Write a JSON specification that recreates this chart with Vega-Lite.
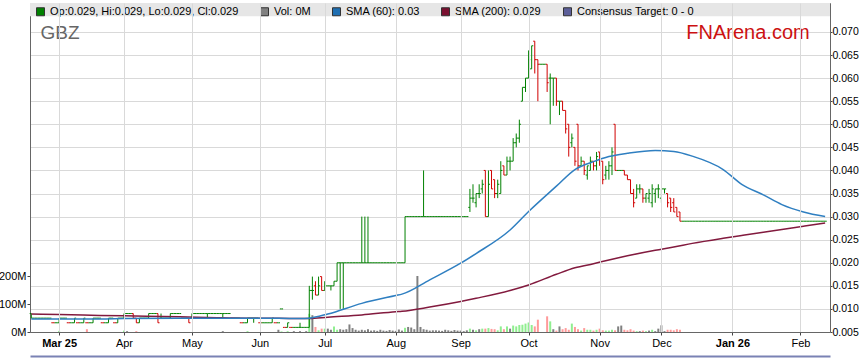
{
"$schema":"https://vega.github.io/schema/vega-lite/v6.json",
"width":800,"height":329,
"autosize":{"type":"none"},
"padding":{"left":30,"top":3,"right":29,"bottom":31},
"background":"white",
"config":{"font":"Liberation Sans","view":{"stroke":"#9a9a9a","strokeWidth":1},
"axis":{"labelFont":"Liberation Sans","labelFontSize":11,"labelColor":"#000","domainColor":"#666","tickColor":"#444","gridColor":"#d9d9d9","title":null}},
"datasets":{
"px":[
{"d":"2025-02-18","o":0.009,"h":0.009,"l":0.008,"c":0.008,"v":0},
{"d":"2025-02-19","o":0.008,"h":0.008,"l":0.008,"c":0.008,"v":0},
{"d":"2025-02-20","o":0.008,"h":0.008,"l":0.008,"c":0.008,"v":0},
{"d":"2025-02-21","o":0.008,"h":0.008,"l":0.008,"c":0.008,"v":0},
{"d":"2025-02-24","o":0.008,"h":0.008,"l":0.008,"c":0.008,"v":0},
{"d":"2025-02-25","o":0.008,"h":0.008,"l":0.008,"c":0.008,"v":0},
{"d":"2025-02-26","o":0.008,"h":0.008,"l":0.008,"c":0.008,"v":0},
{"d":"2025-02-27","o":0.007,"h":0.007,"l":0.007,"c":0.007,"v":0},
{"d":"2025-02-28","o":0.007,"h":0.007,"l":0.007,"c":0.007,"v":0},
{"d":"2025-03-03","o":0.007,"h":0.008,"l":0.007,"c":0.008,"v":4},
{"d":"2025-03-04","o":0.008,"h":0.008,"l":0.008,"c":0.008,"v":0},
{"d":"2025-03-05","o":0.008,"h":0.008,"l":0.008,"c":0.008,"v":0},
{"d":"2025-03-06","o":0.007,"h":0.007,"l":0.007,"c":0.007,"v":0},
{"d":"2025-03-07","o":0.007,"h":0.007,"l":0.007,"c":0.007,"v":0},
{"d":"2025-03-10","o":0.007,"h":0.008,"l":0.007,"c":0.008,"v":0},
{"d":"2025-03-11","o":0.007,"h":0.007,"l":0.007,"c":0.007,"v":0},
{"d":"2025-03-12","o":0.007,"h":0.007,"l":0.007,"c":0.007,"v":0},
{"d":"2025-03-13","o":0.007,"h":0.008,"l":0.007,"c":0.008,"v":0},
{"d":"2025-03-14","o":0.007,"h":0.007,"l":0.007,"c":0.007,"v":10},
{"d":"2025-03-17","o":0.007,"h":0.007,"l":0.007,"c":0.007,"v":0},
{"d":"2025-03-18","o":0.007,"h":0.008,"l":0.007,"c":0.008,"v":0},
{"d":"2025-03-19","o":0.008,"h":0.008,"l":0.008,"c":0.008,"v":0},
{"d":"2025-03-20","o":0.008,"h":0.008,"l":0.008,"c":0.008,"v":0},
{"d":"2025-03-21","o":0.007,"h":0.007,"l":0.007,"c":0.007,"v":0},
{"d":"2025-03-24","o":0.007,"h":0.007,"l":0.007,"c":0.007,"v":0},
{"d":"2025-03-25","o":0.007,"h":0.008,"l":0.007,"c":0.008,"v":0},
{"d":"2025-03-26","o":0.008,"h":0.008,"l":0.008,"c":0.008,"v":0},
{"d":"2025-03-27","o":0.007,"h":0.007,"l":0.007,"c":0.007,"v":0},
{"d":"2025-03-28","o":0.007,"h":0.008,"l":0.007,"c":0.008,"v":0},
{"d":"2025-03-31","o":0.008,"h":0.008,"l":0.008,"c":0.008,"v":0},
{"d":"2025-04-01","o":0.008,"h":0.009,"l":0.008,"c":0.009,"v":5},
{"d":"2025-04-02","o":0.009,"h":0.009,"l":0.009,"c":0.009,"v":3},
{"d":"2025-04-03","o":0.009,"h":0.009,"l":0.009,"c":0.009,"v":0},
{"d":"2025-04-04","o":0.009,"h":0.009,"l":0.008,"c":0.008,"v":0},
{"d":"2025-04-07","o":0.008,"h":0.008,"l":0.007,"c":0.007,"v":3},
{"d":"2025-04-08","o":0.007,"h":0.008,"l":0.007,"c":0.008,"v":0},
{"d":"2025-04-09","o":0.008,"h":0.008,"l":0.008,"c":0.008,"v":0},
{"d":"2025-04-10","o":0.008,"h":0.008,"l":0.008,"c":0.008,"v":0},
{"d":"2025-04-11","o":0.008,"h":0.009,"l":0.008,"c":0.009,"v":0},
{"d":"2025-04-14","o":0.009,"h":0.009,"l":0.009,"c":0.009,"v":0},
{"d":"2025-04-15","o":0.009,"h":0.009,"l":0.009,"c":0.009,"v":0},
{"d":"2025-04-16","o":0.009,"h":0.009,"l":0.007,"c":0.007,"v":0},
{"d":"2025-04-17","o":0.008,"h":0.009,"l":0.008,"c":0.008,"v":0},
{"d":"2025-04-18","o":0.008,"h":0.008,"l":0.008,"c":0.008,"v":0},
{"d":"2025-04-21","o":0.008,"h":0.008,"l":0.008,"c":0.008,"v":0},
{"d":"2025-04-22","o":0.008,"h":0.009,"l":0.008,"c":0.009,"v":0},
{"d":"2025-04-23","o":0.009,"h":0.009,"l":0.009,"c":0.009,"v":0},
{"d":"2025-04-24","o":0.009,"h":0.009,"l":0.009,"c":0.009,"v":0},
{"d":"2025-04-25","o":0.009,"h":0.009,"l":0.009,"c":0.009,"v":0},
{"d":"2025-04-28","o":0.008,"h":0.008,"l":0.008,"c":0.008,"v":0},
{"d":"2025-04-29","o":0.008,"h":0.008,"l":0.008,"c":0.008,"v":0},
{"d":"2025-04-30","o":0.008,"h":0.008,"l":0.007,"c":0.007,"v":0},
{"d":"2025-05-01","o":0.008,"h":0.009,"l":0.008,"c":0.009,"v":0},
{"d":"2025-05-02","o":0.009,"h":0.009,"l":0.009,"c":0.009,"v":0},
{"d":"2025-05-05","o":0.009,"h":0.009,"l":0.009,"c":0.009,"v":0},
{"d":"2025-05-06","o":0.009,"h":0.009,"l":0.009,"c":0.009,"v":0},
{"d":"2025-05-07","o":0.009,"h":0.009,"l":0.009,"c":0.009,"v":0},
{"d":"2025-05-08","o":0.009,"h":0.009,"l":0.008,"c":0.009,"v":0},
{"d":"2025-05-09","o":0.009,"h":0.009,"l":0.009,"c":0.009,"v":0},
{"d":"2025-05-12","o":0.009,"h":0.009,"l":0.009,"c":0.009,"v":0},
{"d":"2025-05-13","o":0.009,"h":0.009,"l":0.009,"c":0.009,"v":0},
{"d":"2025-05-14","o":0.009,"h":0.009,"l":0.009,"c":0.009,"v":0},
{"d":"2025-05-15","o":0.009,"h":0.009,"l":0.008,"c":0.009,"v":3},
{"d":"2025-05-16","o":0.009,"h":0.009,"l":0.009,"c":0.009,"v":0},
{"d":"2025-05-19","o":0.009,"h":0.009,"l":0.009,"c":0.009,"v":0},
{"d":"2025-05-20","o":0.008,"h":0.008,"l":0.008,"c":0.008,"v":0},
{"d":"2025-05-21","o":0.008,"h":0.008,"l":0.008,"c":0.008,"v":0},
{"d":"2025-05-22","o":0.008,"h":0.008,"l":0.008,"c":0.008,"v":0},
{"d":"2025-05-23","o":0.007,"h":0.007,"l":0.007,"c":0.007,"v":0},
{"d":"2025-05-26","o":0.007,"h":0.007,"l":0.007,"c":0.007,"v":0},
{"d":"2025-05-27","o":0.007,"h":0.008,"l":0.007,"c":0.008,"v":3},
{"d":"2025-05-28","o":0.008,"h":0.008,"l":0.008,"c":0.008,"v":0},
{"d":"2025-05-29","o":0.008,"h":0.008,"l":0.007,"c":0.008,"v":0},
{"d":"2025-05-30","o":0.008,"h":0.008,"l":0.008,"c":0.008,"v":0},
{"d":"2025-06-02","o":0.007,"h":0.007,"l":0.007,"c":0.007,"v":0},
{"d":"2025-06-03","o":0.007,"h":0.007,"l":0.007,"c":0.007,"v":0},
{"d":"2025-06-04","o":0.007,"h":0.007,"l":0.007,"c":0.007,"v":0},
{"d":"2025-06-05","o":0.007,"h":0.007,"l":0.007,"c":0.007,"v":0},
{"d":"2025-06-06","o":0.007,"h":0.008,"l":0.007,"c":0.008,"v":0},
{"d":"2025-06-09","o":0.007,"h":0.007,"l":0.007,"c":0.007,"v":0},
{"d":"2025-06-10","o":0.007,"h":0.007,"l":0.007,"c":0.007,"v":8},
{"d":"2025-06-11","o":0.010,"h":0.010,"l":0.010,"c":0.010,"v":2},
{"d":"2025-06-12","o":0.006,"h":0.006,"l":0.006,"c":0.006,"v":0},
{"d":"2025-06-13","o":0.006,"h":0.007,"l":0.006,"c":0.007,"v":3},
{"d":"2025-06-16","o":0.006,"h":0.006,"l":0.006,"c":0.006,"v":0},
{"d":"2025-06-17","o":0.006,"h":0.006,"l":0.006,"c":0.006,"v":3},
{"d":"2025-06-18","o":0.006,"h":0.006,"l":0.006,"c":0.006,"v":0},
{"d":"2025-06-19","o":0.006,"h":0.007,"l":0.006,"c":0.006,"v":3},
{"d":"2025-06-20","o":0.006,"h":0.006,"l":0.006,"c":0.006,"v":0},
{"d":"2025-06-23","o":0.006,"h":0.006,"l":0.006,"c":0.006,"v":3},
{"d":"2025-06-24","o":0.006,"h":0.015,"l":0.006,"c":0.014,"v":65},
{"d":"2025-06-25","o":0.014,"h":0.017,"l":0.012,"c":0.014,"v":60},
{"d":"2025-06-26","o":0.015,"h":0.016,"l":0.013,"c":0.013,"v":18},
{"d":"2025-06-27","o":0.013,"h":0.017,"l":0.013,"c":0.015,"v":6},
{"d":"2025-06-30","o":0.017,"h":0.017,"l":0.014,"c":0.014,"v":12},
{"d":"2025-07-01","o":0.014,"h":0.016,"l":0.014,"c":0.015,"v":12},
{"d":"2025-07-02","o":0.015,"h":0.015,"l":0.015,"c":0.015,"v":12},
{"d":"2025-07-03","o":0.015,"h":0.015,"l":0.014,"c":0.015,"v":8},
{"d":"2025-07-04","o":0.015,"h":0.016,"l":0.015,"c":0.016,"v":20},
{"d":"2025-07-07","o":0.016,"h":0.020,"l":0.016,"c":0.020,"v":8},
{"d":"2025-07-08","o":0.020,"h":0.020,"l":0.010,"c":0.020,"v":10},
{"d":"2025-07-09","o":0.020,"h":0.020,"l":0.010,"c":0.020,"v":8},
{"d":"2025-07-10","o":0.020,"h":0.020,"l":0.020,"c":0.020,"v":10},
{"d":"2025-07-11","o":0.020,"h":0.020,"l":0.020,"c":0.020,"v":27},
{"d":"2025-07-14","o":0.020,"h":0.020,"l":0.020,"c":0.020,"v":14},
{"d":"2025-07-15","o":0.020,"h":0.020,"l":0.020,"c":0.020,"v":8},
{"d":"2025-07-16","o":0.020,"h":0.020,"l":0.020,"c":0.020,"v":5},
{"d":"2025-07-17","o":0.020,"h":0.030,"l":0.020,"c":0.020,"v":8},
{"d":"2025-07-18","o":0.020,"h":0.030,"l":0.020,"c":0.020,"v":6},
{"d":"2025-07-21","o":0.020,"h":0.030,"l":0.020,"c":0.020,"v":10},
{"d":"2025-07-22","o":0.020,"h":0.020,"l":0.020,"c":0.020,"v":5},
{"d":"2025-07-23","o":0.020,"h":0.020,"l":0.020,"c":0.020,"v":6},
{"d":"2025-07-24","o":0.020,"h":0.020,"l":0.020,"c":0.020,"v":4},
{"d":"2025-07-25","o":0.020,"h":0.020,"l":0.020,"c":0.020,"v":8},
{"d":"2025-07-28","o":0.020,"h":0.020,"l":0.020,"c":0.020,"v":5},
{"d":"2025-07-29","o":0.020,"h":0.020,"l":0.020,"c":0.020,"v":4},
{"d":"2025-07-30","o":0.020,"h":0.020,"l":0.020,"c":0.020,"v":7},
{"d":"2025-07-31","o":0.020,"h":0.020,"l":0.020,"c":0.020,"v":5},
{"d":"2025-08-01","o":0.020,"h":0.020,"l":0.020,"c":0.020,"v":4},
{"d":"2025-08-04","o":0.020,"h":0.020,"l":0.020,"c":0.020,"v":9},
{"d":"2025-08-05","o":0.020,"h":0.020,"l":0.020,"c":0.020,"v":5},
{"d":"2025-08-06","o":0.020,"h":0.030,"l":0.020,"c":0.030,"v":15},
{"d":"2025-08-07","o":0.030,"h":0.030,"l":0.030,"c":0.030,"v":18},
{"d":"2025-08-08","o":0.030,"h":0.030,"l":0.030,"c":0.030,"v":16},
{"d":"2025-08-11","o":0.030,"h":0.030,"l":0.030,"c":0.030,"v":10},
{"d":"2025-08-12","o":0.030,"h":0.030,"l":0.030,"c":0.030,"v":200},
{"d":"2025-08-13","o":0.030,"h":0.030,"l":0.030,"c":0.030,"v":18},
{"d":"2025-08-14","o":0.030,"h":0.040,"l":0.030,"c":0.030,"v":10},
{"d":"2025-08-15","o":0.030,"h":0.030,"l":0.030,"c":0.030,"v":8},
{"d":"2025-08-18","o":0.030,"h":0.030,"l":0.030,"c":0.030,"v":5},
{"d":"2025-08-19","o":0.030,"h":0.030,"l":0.030,"c":0.030,"v":6},
{"d":"2025-08-20","o":0.030,"h":0.030,"l":0.030,"c":0.030,"v":6},
{"d":"2025-08-21","o":0.030,"h":0.030,"l":0.030,"c":0.030,"v":5},
{"d":"2025-08-22","o":0.030,"h":0.030,"l":0.030,"c":0.030,"v":4},
{"d":"2025-08-25","o":0.030,"h":0.030,"l":0.030,"c":0.030,"v":8},
{"d":"2025-08-26","o":0.030,"h":0.030,"l":0.030,"c":0.030,"v":6},
{"d":"2025-08-27","o":0.030,"h":0.030,"l":0.030,"c":0.030,"v":4},
{"d":"2025-08-28","o":0.030,"h":0.030,"l":0.030,"c":0.030,"v":7},
{"d":"2025-08-29","o":0.030,"h":0.030,"l":0.030,"c":0.030,"v":5},
{"d":"2025-09-01","o":0.030,"h":0.030,"l":0.030,"c":0.030,"v":5},
{"d":"2025-09-02","o":0.030,"h":0.030,"l":0.030,"c":0.030,"v":3},
{"d":"2025-09-03","o":0.030,"h":0.030,"l":0.030,"c":0.030,"v":6},
{"d":"2025-09-04","o":0.032,"h":0.036,"l":0.031,"c":0.034,"v":12},
{"d":"2025-09-05","o":0.034,"h":0.037,"l":0.033,"c":0.034,"v":8},
{"d":"2025-09-08","o":0.033,"h":0.035,"l":0.032,"c":0.035,"v":6},
{"d":"2025-09-09","o":0.035,"h":0.037,"l":0.034,"c":0.035,"v":10},
{"d":"2025-09-10","o":0.036,"h":0.038,"l":0.035,"c":0.037,"v":12},
{"d":"2025-09-11","o":0.040,"h":0.040,"l":0.030,"c":0.030,"v":12},
{"d":"2025-09-12","o":0.030,"h":0.040,"l":0.030,"c":0.037,"v":14},
{"d":"2025-09-15","o":0.040,"h":0.040,"l":0.036,"c":0.036,"v":11},
{"d":"2025-09-16","o":0.038,"h":0.038,"l":0.034,"c":0.035,"v":10},
{"d":"2025-09-17","o":0.035,"h":0.038,"l":0.034,"c":0.037,"v":6},
{"d":"2025-09-18","o":0.035,"h":0.042,"l":0.035,"c":0.040,"v":20},
{"d":"2025-09-19","o":0.041,"h":0.041,"l":0.039,"c":0.039,"v":10},
{"d":"2025-09-22","o":0.039,"h":0.043,"l":0.039,"c":0.042,"v":20},
{"d":"2025-09-23","o":0.042,"h":0.043,"l":0.040,"c":0.042,"v":12},
{"d":"2025-09-24","o":0.042,"h":0.047,"l":0.042,"c":0.046,"v":23},
{"d":"2025-09-25","o":0.046,"h":0.048,"l":0.045,"c":0.047,"v":20},
{"d":"2025-09-26","o":0.047,"h":0.051,"l":0.046,"c":0.050,"v":25},
{"d":"2025-09-29","o":0.055,"h":0.058,"l":0.055,"c":0.058,"v":26},
{"d":"2025-09-30","o":0.058,"h":0.060,"l":0.057,"c":0.060,"v":30},
{"d":"2025-10-01","o":0.060,"h":0.066,"l":0.060,"c":0.064,"v":34},
{"d":"2025-10-02","o":0.062,"h":0.067,"l":0.062,"c":0.067,"v":25},
{"d":"2025-10-03","o":0.068,"h":0.068,"l":0.061,"c":0.064,"v":20},
{"d":"2025-10-06","o":0.064,"h":0.064,"l":0.055,"c":0.063,"v":44},
{"d":"2025-10-07","o":0.063,"h":0.063,"l":0.063,"c":0.063,"v":0},
{"d":"2025-10-08","o":0.063,"h":0.063,"l":0.063,"c":0.063,"v":0},
{"d":"2025-10-09","o":0.063,"h":0.063,"l":0.057,"c":0.059,"v":56},
{"d":"2025-10-10","o":0.060,"h":0.061,"l":0.050,"c":0.060,"v":38},
{"d":"2025-10-13","o":0.060,"h":0.060,"l":0.054,"c":0.060,"v":10},
{"d":"2025-10-14","o":0.060,"h":0.060,"l":0.054,"c":0.055,"v":5},
{"d":"2025-10-15","o":0.055,"h":0.055,"l":0.052,"c":0.055,"v":20},
{"d":"2025-10-16","o":0.055,"h":0.055,"l":0.053,"c":0.053,"v":10},
{"d":"2025-10-17","o":0.053,"h":0.053,"l":0.048,"c":0.049,"v":14},
{"d":"2025-10-20","o":0.050,"h":0.050,"l":0.043,"c":0.045,"v":8},
{"d":"2025-10-21","o":0.046,"h":0.048,"l":0.045,"c":0.047,"v":30},
{"d":"2025-10-22","o":0.045,"h":0.045,"l":0.041,"c":0.042,"v":18},
{"d":"2025-10-23","o":0.050,"h":0.050,"l":0.040,"c":0.041,"v":10},
{"d":"2025-10-24","o":0.041,"h":0.043,"l":0.041,"c":0.042,"v":5},
{"d":"2025-10-27","o":0.042,"h":0.042,"l":0.039,"c":0.040,"v":14},
{"d":"2025-10-28","o":0.039,"h":0.041,"l":0.038,"c":0.041,"v":8},
{"d":"2025-10-29","o":0.040,"h":0.043,"l":0.040,"c":0.042,"v":8},
{"d":"2025-10-30","o":0.042,"h":0.042,"l":0.040,"c":0.041,"v":5},
{"d":"2025-10-31","o":0.041,"h":0.044,"l":0.040,"c":0.043,"v":8},
{"d":"2025-11-03","o":0.044,"h":0.044,"l":0.041,"c":0.042,"v":12},
{"d":"2025-11-04","o":0.042,"h":0.042,"l":0.037,"c":0.038,"v":6},
{"d":"2025-11-05","o":0.039,"h":0.041,"l":0.038,"c":0.040,"v":5},
{"d":"2025-11-06","o":0.040,"h":0.042,"l":0.038,"c":0.041,"v":5},
{"d":"2025-11-07","o":0.041,"h":0.045,"l":0.039,"c":0.044,"v":8},
{"d":"2025-11-10","o":0.050,"h":0.050,"l":0.040,"c":0.040,"v":6},
{"d":"2025-11-11","o":0.040,"h":0.040,"l":0.040,"c":0.040,"v":20},
{"d":"2025-11-12","o":0.040,"h":0.040,"l":0.040,"c":0.040,"v":23},
{"d":"2025-11-13","o":0.040,"h":0.040,"l":0.039,"c":0.039,"v":8},
{"d":"2025-11-14","o":0.039,"h":0.039,"l":0.038,"c":0.038,"v":6},
{"d":"2025-11-17","o":0.038,"h":0.038,"l":0.035,"c":0.035,"v":10},
{"d":"2025-11-18","o":0.035,"h":0.036,"l":0.032,"c":0.033,"v":5},
{"d":"2025-11-19","o":0.034,"h":0.037,"l":0.034,"c":0.036,"v":3},
{"d":"2025-11-20","o":0.036,"h":0.037,"l":0.035,"c":0.036,"v":3},
{"d":"2025-11-21","o":0.036,"h":0.036,"l":0.033,"c":0.034,"v":5},
{"d":"2025-11-24","o":0.034,"h":0.035,"l":0.033,"c":0.035,"v":3},
{"d":"2025-11-25","o":0.034,"h":0.036,"l":0.033,"c":0.035,"v":5},
{"d":"2025-11-26","o":0.033,"h":0.037,"l":0.032,"c":0.036,"v":8},
{"d":"2025-11-27","o":0.035,"h":0.036,"l":0.033,"c":0.036,"v":3},
{"d":"2025-11-28","o":0.036,"h":0.037,"l":0.034,"c":0.036,"v":12},
{"d":"2025-12-01","o":0.034,"h":0.036,"l":0.033,"c":0.036,"v":24},
{"d":"2025-12-02","o":0.036,"h":0.036,"l":0.035,"c":0.036,"v":3},
{"d":"2025-12-03","o":0.035,"h":0.035,"l":0.032,"c":0.033,"v":8},
{"d":"2025-12-04","o":0.034,"h":0.034,"l":0.031,"c":0.032,"v":8},
{"d":"2025-12-05","o":0.033,"h":0.034,"l":0.031,"c":0.031,"v":6},
{"d":"2025-12-08","o":0.032,"h":0.032,"l":0.030,"c":0.030,"v":10},
{"d":"2025-12-09","o":0.031,"h":0.031,"l":0.029,"c":0.029,"v":8},
{"d":"2025-12-10","o":0.029,"h":0.029,"l":0.029,"c":0.029,"v":0},
{"d":"2025-12-11","o":0.029,"h":0.029,"l":0.029,"c":0.029,"v":0},
{"d":"2025-12-12","o":0.029,"h":0.029,"l":0.029,"c":0.029,"v":0},
{"d":"2025-12-15","o":0.029,"h":0.029,"l":0.029,"c":0.029,"v":0},
{"d":"2025-12-16","o":0.029,"h":0.029,"l":0.029,"c":0.029,"v":0},
{"d":"2025-12-17","o":0.029,"h":0.029,"l":0.029,"c":0.029,"v":0},
{"d":"2025-12-18","o":0.029,"h":0.029,"l":0.029,"c":0.029,"v":0},
{"d":"2025-12-19","o":0.029,"h":0.029,"l":0.029,"c":0.029,"v":0},
{"d":"2025-12-22","o":0.029,"h":0.029,"l":0.029,"c":0.029,"v":0},
{"d":"2025-12-23","o":0.029,"h":0.029,"l":0.029,"c":0.029,"v":0},
{"d":"2025-12-24","o":0.029,"h":0.029,"l":0.029,"c":0.029,"v":0},
{"d":"2025-12-25","o":0.029,"h":0.029,"l":0.029,"c":0.029,"v":0},
{"d":"2025-12-26","o":0.029,"h":0.029,"l":0.029,"c":0.029,"v":0},
{"d":"2025-12-29","o":0.029,"h":0.029,"l":0.029,"c":0.029,"v":0},
{"d":"2025-12-30","o":0.029,"h":0.029,"l":0.029,"c":0.029,"v":0},
{"d":"2025-12-31","o":0.029,"h":0.029,"l":0.029,"c":0.029,"v":0},
{"d":"2026-01-01","o":0.029,"h":0.029,"l":0.029,"c":0.029,"v":0},
{"d":"2026-01-02","o":0.029,"h":0.029,"l":0.029,"c":0.029,"v":0},
{"d":"2026-01-05","o":0.029,"h":0.029,"l":0.029,"c":0.029,"v":0},
{"d":"2026-01-06","o":0.029,"h":0.029,"l":0.029,"c":0.029,"v":0},
{"d":"2026-01-07","o":0.029,"h":0.029,"l":0.029,"c":0.029,"v":0},
{"d":"2026-01-08","o":0.029,"h":0.029,"l":0.029,"c":0.029,"v":0},
{"d":"2026-01-09","o":0.029,"h":0.029,"l":0.029,"c":0.029,"v":0},
{"d":"2026-01-12","o":0.029,"h":0.029,"l":0.029,"c":0.029,"v":0},
{"d":"2026-01-13","o":0.029,"h":0.029,"l":0.029,"c":0.029,"v":0},
{"d":"2026-01-14","o":0.029,"h":0.029,"l":0.029,"c":0.029,"v":0},
{"d":"2026-01-15","o":0.029,"h":0.029,"l":0.029,"c":0.029,"v":0},
{"d":"2026-01-16","o":0.029,"h":0.029,"l":0.029,"c":0.029,"v":0},
{"d":"2026-01-19","o":0.029,"h":0.029,"l":0.029,"c":0.029,"v":0},
{"d":"2026-01-20","o":0.029,"h":0.029,"l":0.029,"c":0.029,"v":0},
{"d":"2026-01-21","o":0.029,"h":0.029,"l":0.029,"c":0.029,"v":0},
{"d":"2026-01-22","o":0.029,"h":0.029,"l":0.029,"c":0.029,"v":0},
{"d":"2026-01-23","o":0.029,"h":0.029,"l":0.029,"c":0.029,"v":0},
{"d":"2026-01-26","o":0.029,"h":0.029,"l":0.029,"c":0.029,"v":0},
{"d":"2026-01-27","o":0.029,"h":0.029,"l":0.029,"c":0.029,"v":0},
{"d":"2026-01-28","o":0.029,"h":0.029,"l":0.029,"c":0.029,"v":0},
{"d":"2026-01-29","o":0.029,"h":0.029,"l":0.029,"c":0.029,"v":0},
{"d":"2026-01-30","o":0.029,"h":0.029,"l":0.029,"c":0.029,"v":0},
{"d":"2026-02-02","o":0.029,"h":0.029,"l":0.029,"c":0.029,"v":0},
{"d":"2026-02-03","o":0.029,"h":0.029,"l":0.029,"c":0.029,"v":0},
{"d":"2026-02-04","o":0.029,"h":0.029,"l":0.029,"c":0.029,"v":0},
{"d":"2026-02-05","o":0.029,"h":0.029,"l":0.029,"c":0.029,"v":0},
{"d":"2026-02-06","o":0.029,"h":0.029,"l":0.029,"c":0.029,"v":0},
{"d":"2026-02-09","o":0.029,"h":0.029,"l":0.029,"c":0.029,"v":0},
{"d":"2026-02-10","o":0.029,"h":0.029,"l":0.029,"c":0.029,"v":0},
{"d":"2026-02-11","o":0.029,"h":0.029,"l":0.029,"c":0.029,"v":0},
{"d":"2026-02-12","o":0.029,"h":0.029,"l":0.029,"c":0.029,"v":0}
],
"sma":[
{"d":"2025-02-18","s60":0.0078,"s200":0.0089},
{"d":"2025-03-03","s60":0.0078,"s200":0.0088},
{"d":"2025-03-20","s60":0.0078,"s200":0.0086},
{"d":"2025-04-01","s60":0.0079,"s200":0.0085},
{"d":"2025-04-25","s60":0.0080,"s200":0.0083},
{"d":"2025-05-13","s60":0.0080,"s200":0.0081},
{"d":"2025-05-28","s60":0.0080,"s200":0.0080},
{"d":"2025-06-10","s60":0.0080,"s200":0.0080},
{"d":"2025-06-19","s60":0.0079,"s200":0.0079},
{"d":"2025-06-24","s60":0.0080,"s200":0.0079},
{"d":"2025-07-02","s60":0.0089,"s200":0.0082},
{"d":"2025-07-17","s60":0.0112,"s200":0.0087},
{"d":"2025-08-01","s60":0.0129,"s200":0.0094},
{"d":"2025-08-05","s60":0.0132,"s200":0.0095},
{"d":"2025-08-18","s60":0.0163,"s200":0.0104},
{"d":"2025-09-01","s60":0.0199,"s200":0.0116},
{"d":"2025-09-08","s60":0.0220,"s200":0.0123},
{"d":"2025-09-23","s60":0.0271,"s200":0.0140},
{"d":"2025-10-01","s60":0.0311,"s200":0.0152},
{"d":"2025-10-14","s60":0.0366,"s200":0.0175},
{"d":"2025-10-22","s60":0.0402,"s200":0.0189},
{"d":"2025-10-30","s60":0.0419,"s200":0.0198},
{"d":"2025-11-06","s60":0.0430,"s200":0.0206},
{"d":"2025-11-14","s60":0.0437,"s200":0.0215},
{"d":"2025-11-27","s60":0.0443,"s200":0.0227},
{"d":"2025-12-05","s60":0.0441,"s200":0.0234},
{"d":"2025-12-15","s60":0.0431,"s200":0.0242},
{"d":"2025-12-29","s60":0.0402,"s200":0.0253},
{"d":"2026-01-06","s60":0.0370,"s200":0.0259},
{"d":"2026-01-15","s60":0.0347,"s200":0.0266},
{"d":"2026-01-23","s60":0.0326,"s200":0.0272},
{"d":"2026-02-03","s60":0.0310,"s200":0.0279},
{"d":"2026-02-12","s60":0.0300,"s200":0.0286}
],
"leg":[
{"s":"Op:0.029, Hi:0.029, Lo:0.029, Cl:0.029"},
{"s":"Vol: 0M"},
{"s":"SMA (60): 0.03"},
{"s":"SMA (200): 0.029"},
{"s":"Consensus Target: 0 - 0"}
]
},
"layer":[
{
"data":{"name":"px"},
"transform":[{"window":[{"op":"lag","field":"c","as":"pc"}],"sort":[{"field":"d","order":"ascending"}]}],
"mark":{"type":"rule","strokeWidth":2},
"encoding":{
"x":{"field":"d","type":"ordinal","scale":{"type":"point","padding":1.45,"align":0.21},
"axis":{"values":["2025-03-03","2025-04-01","2025-05-01","2025-06-02","2025-07-01","2025-08-01","2025-09-01","2025-10-01","2025-11-03","2025-12-01","2026-01-01","2026-02-02"],
"labelExpr":"['Mar 25','Apr','May','Jun','Jul','Aug','Sep','Oct','Nov','Dec','Jan 26','Feb'][indexof(['2025-03-03','2025-04-01','2025-05-01','2025-06-02','2025-07-01','2025-08-01','2025-09-01','2025-10-01','2025-11-03','2025-12-01','2026-01-01','2026-02-02'], datum.value)]",
"labelFontWeight":{"condition":{"test":"datum.value == '2025-03-03' || datum.value == '2026-01-01'","value":"bold"},"value":"normal"},
"labelAngle":0,"grid":true,"tickSize":3,"labelPadding":2,"zindex":1}},
"y":{"field":"v","type":"quantitative","scale":{"domain":[0,1175],"nice":false,"zero":true},
"axis":{"orient":"left","values":[0,100,200],"labelExpr":"datum.value + 'M'","grid":false,"tickSize":3,"labelPadding":1}},
"y2":{"datum":0},
"color":{"condition":[{"test":"datum.c > datum.pc","value":"#90ee90"},{"test":"datum.c < datum.pc","value":"#ff9a9a"}],"value":"#808080"}
}
},
{
"data":{"values":[{}]},
"mark":{"type":"rect","color":"#e6e6e6"},
"encoding":{
"y":{"datum":0.07627,"type":"quantitative","scale":{"domain":[0.005,0.07627],"nice":false,"zero":false},"axis":null},
"y2":{"datum":0.0734}
}
},
{
"data":{"name":"px"},
"transform":[{"window":[{"op":"lag","field":"c","as":"pc"}],"sort":[{"field":"d","order":"ascending"}]}],
"mark":{"type":"rule","strokeWidth":1},
"encoding":{
"x":{"field":"d","type":"ordinal","scale":{"type":"point","padding":1.45,"align":0.21},
"axis":{"orient":"bottom","offset":24,"labels":false,"ticks":false,"grid":false,"domain":true,"domainColor":"#7a82b4","domainWidth":2}},
"y":{"field":"l","type":"quantitative","scale":{"domain":[0.005,0.07627],"nice":false,"zero":false},
"axis":{"orient":"right","values":[0.005,0.01,0.015,0.02,0.025,0.03,0.035,0.04,0.045,0.05,0.055,0.06,0.065,0.07],"format":".3f","grid":true,"tickSize":2,"labelPadding":0,"labelFontSize":10.5}},
"y2":{"field":"h"},
"color":{"condition":{"test":"datum.c < datum.pc","value":"#d00000"},"value":"#008000"}
}
},
{
"data":{"name":"px"},
"transform":[{"window":[{"op":"lag","field":"c","as":"pc"}],"sort":[{"field":"d","order":"ascending"}]}],
"mark":{"type":"rule","strokeWidth":1,"xOffset":-1.6},
"encoding":{
"x":{"field":"d","type":"ordinal","scale":{"type":"point","padding":1.45,"align":0.21},"axis":null},
"x2":{"field":"d"},
"y":{"field":"o","type":"quantitative","scale":{"domain":[0.005,0.07627],"nice":false,"zero":false},"axis":null},
"color":{"condition":{"test":"datum.c < datum.pc","value":"#d00000"},"value":"#008000"}
}
},
{
"data":{"name":"px"},
"transform":[{"window":[{"op":"lag","field":"c","as":"pc"}],"sort":[{"field":"d","order":"ascending"}]}],
"mark":{"type":"rule","strokeWidth":1,"x2Offset":1.6},
"encoding":{
"x":{"field":"d","type":"ordinal","scale":{"type":"point","padding":1.45,"align":0.21},"axis":null},
"x2":{"field":"d"},
"y":{"field":"c","type":"quantitative","scale":{"domain":[0.005,0.07627],"nice":false,"zero":false},"axis":null},
"color":{"condition":{"test":"datum.c < datum.pc","value":"#d00000"},"value":"#008000"}
}
},
{
"data":{"name":"sma"},
"mark":{"type":"line","strokeWidth":1.5,"color":"#821a3e","interpolate":"monotone"},
"encoding":{
"x":{"field":"d","type":"ordinal","scale":{"type":"point","padding":1.45,"align":0.21},"axis":null},
"y":{"field":"s200","type":"quantitative","scale":{"domain":[0.005,0.07627],"nice":false,"zero":false},"axis":null}
}
},
{
"data":{"name":"sma"},
"mark":{"type":"line","strokeWidth":1.5,"color":"#2f7fc1","interpolate":"monotone"},
"encoding":{
"x":{"field":"d","type":"ordinal","scale":{"type":"point","padding":1.45,"align":0.21},"axis":null},
"y":{"field":"s60","type":"quantitative","scale":{"domain":[0.005,0.07627],"nice":false,"zero":false},"axis":null}
}
},
{
"data":{"values":[{"t":"GBZ"}]},
"mark":{"type":"text","align":"left","baseline":"alphabetic","font":"Liberation Sans","fontSize":19,"color":"#666666"},
"encoding":{
"x":{"datum":"2025-02-21","type":"ordinal","scale":{"type":"point","padding":1.45,"align":0.21},"axis":null},
"y":{"datum":0.0684,"type":"quantitative","scale":{"domain":[0.005,0.07627],"nice":false,"zero":false},"axis":null},
"text":{"field":"t"}
}
},
{
"data":{"values":[{"t":"FNArena.com"}]},
"mark":{"type":"text","align":"right","baseline":"alphabetic","font":"Liberation Sans","fontSize":20,"color":"#cc1111"},
"encoding":{
"x":{"datum":"2026-02-05","type":"ordinal","scale":{"type":"point","padding":1.45,"align":0.21},"axis":null},
"y":{"datum":0.0684,"type":"quantitative","scale":{"domain":[0.005,0.07627],"nice":false,"zero":false},"axis":null},
"text":{"field":"t"}
}
},
{
"data":{"name":"leg"},
"mark":{"type":"square","size":0,"filled":true},
"encoding":{
"color":{"field":"s","type":"nominal",
"scale":{"domain":["Op:0.029, Hi:0.029, Lo:0.029, Cl:0.029","Vol: 0M","SMA (60): 0.03","SMA (200): 0.029","Consensus Target: 0 - 0"],"range":["#008000","#808080","#1f6fb2","#7a1030","#5c5f99"]},
"legend":{"orient":"none","legendX":5,"legendY":3,"direction":"horizontal","title":null,"symbolType":"square","symbolSize":64,"symbolStrokeColor":"#333","symbolStrokeWidth":1,"symbolOpacity":1,"labelFont":"Liberation Sans","labelFontSize":11,"labelColor":"#000","labelOffset":4,"columnPadding":19,"padding":0,"labelLimit":0,
"encode":{"symbols":{"update":{"stroke":{"value":"#333"},"strokeWidth":{"value":1}}}}}
}
}
}
],
"resolve":{"scale":{"y":"independent"},"axis":{"x":"independent"}}
}
